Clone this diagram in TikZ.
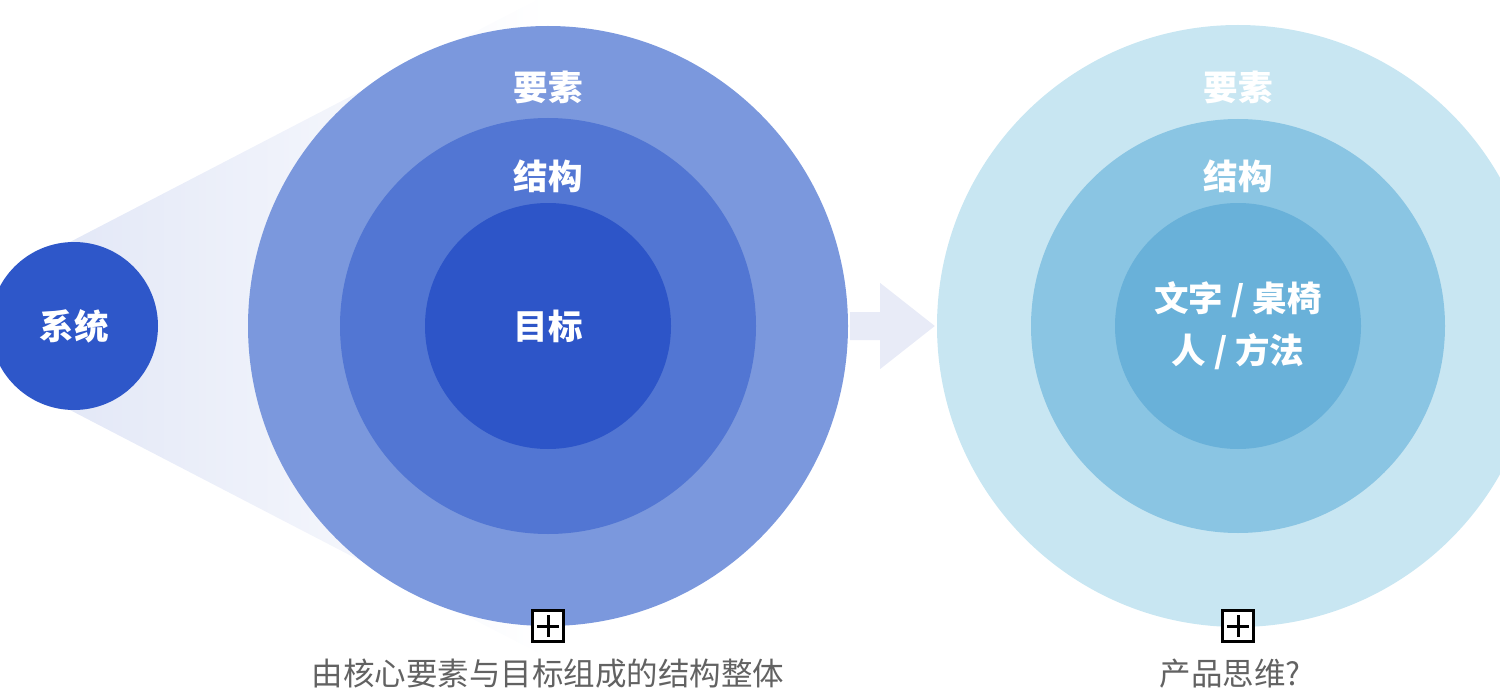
\documentclass[tikz,border=0pt]{standalone}
\usepackage{fontspec}
\newfontfamily\cjk{Noto Sans CJK SC}
\usetikzlibrary{calc}
\definecolor{lo}{HTML}{7B98DD}
\definecolor{lm}{HTML}{5276D3}
\definecolor{li}{HTML}{2D55C8}
\definecolor{ls}{HTML}{2E57C9}
\definecolor{ro}{HTML}{C8E6F2}
\definecolor{rm}{HTML}{8AC5E3}
\definecolor{ri}{HTML}{69B1D9}
\definecolor{cone}{HTML}{E3E8F7}
\definecolor{arr}{HTML}{E8EBF7}
\definecolor{cap}{HTML}{626262}
\tikzset{
  disc/.style={circle, inner sep=0pt, minimum size=#1},
  lbl/.style={text=white, font=\cjk\bfseries\fontsize{34.5}{52}\selectfont, align=center},
  captext/.style={text=cap, font=\cjk\fontsize{31.5}{36}\selectfont},
  plusbox/.style={draw=black, line width=3pt, minimum size=31pt, inner sep=0pt, fill=white}
}
\begin{document}
\begin{tikzpicture}[x=1pt,y=-1pt]
\useasboundingbox (0,0) rectangle (1500,698);
% cone behind
\shade[left color=cone, right color=white, shading angle=90]
  (70,242) -- (548,-6) -- (548,658) -- (70,410) -- cycle;
% left target
\node[disc=600pt, fill=lo] (L1) at (548,326) {};
\node[disc=416pt, fill=lm] (L2) at (548,326) {};
\node[disc=246pt, fill=li] (L3) at (548,326) {};
% small system circle
\node[disc=168pt, fill=ls] (S) at (74,326) {};
% right target
\node[disc=602pt, fill=ro] (R1) at (1238,326) {};
\node[disc=414pt, fill=rm] (R2) at (1238,326) {};
\node[disc=246pt, fill=ri] (R3) at (1238,326) {};
% arrow between
\fill[arr] ($(L1.east)+(2,-14)$) -- ++(30,0) -- ++(0,-29) -- ($(R1.west)+(-2,0)$)
  -- ($(L1.east)+(32,43)$) -- ++(0,-29) -- ($(L1.east)+(2,14)$) -- cycle;
% labels
\node[lbl] (ts) at (S) {系统};
\node[lbl] (l1) at (548,87) {要素};
\node[lbl] (l2) at (548,176) {结构};
\node[lbl] (l3) at (548,326) {目标};
\node[lbl] (r1) at (1238,87) {要素};
\node[lbl] (r2) at (1238,176) {结构};
\node[lbl] (r3a) at (1238,300) {文字 / 桌椅};
\node[lbl] (r3b) at (1238,352) {人 / 方法};
% plus boxes
\node[plusbox] (pl) at (548,626) {};
\draw[line width=3pt] ($(pl.center)+(-11,0)$) -- ($(pl.center)+(11,0)$)
  ($(pl.center)+(0,-11)$) -- ($(pl.center)+(0,11)$);
\node[plusbox] (pr) at (1238,626) {};
\draw[line width=3pt] ($(pr.center)+(-11,0)$) -- ($(pr.center)+(11,0)$)
  ($(pr.center)+(0,-11)$) -- ($(pr.center)+(0,11)$);
% captions
\node[captext] (cl) at (548,674) {由核心要素与目标组成的结构整体};
\node[captext] (cr) at (1230,674) {产品思维?};
\end{tikzpicture}
\end{document}
